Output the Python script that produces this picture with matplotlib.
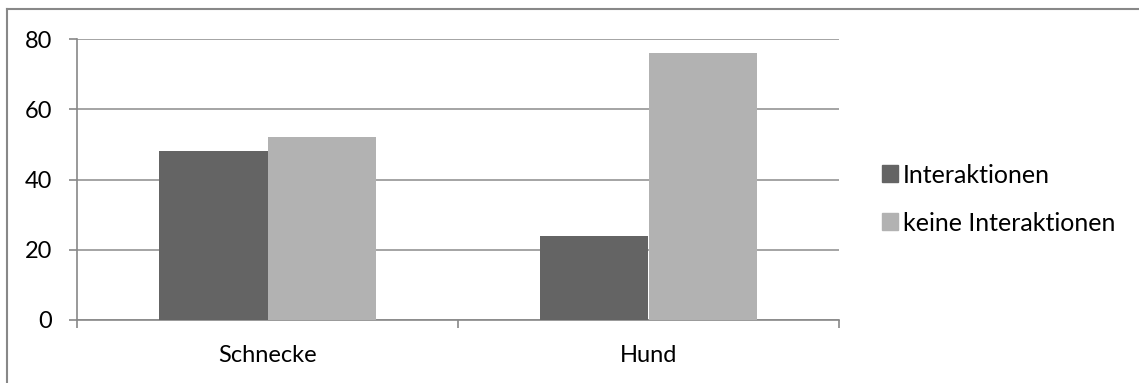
import numpy as np
import matplotlib.pyplot as plt
from matplotlib.patches import Patch

plt.rcParams['font.family'] = ['Lato', 'DejaVu Sans']

kategorien = ["Schnecke", "Hund"]
interaktionen = [48, 24]
keine_interaktionen = [52, 76]
serien = ["Interaktionen", "keine Interaktionen"]
farben = ["#646464", "#b2b2b2"]
yticks = [0, 20, 40, 60, 80]

W, H = 1139, 383
fig = plt.figure(figsize=(W / 100, H / 100), dpi=100)
ax = fig.add_axes([77 / W, 1 - 320 / H, (839 - 77) / W, (320 - 39) / H])

# Rahmen (nur oben und links sichtbar)
fig.add_artist(plt.Line2D([7 / W, 7 / W], [0, 1 - 9 / H], color="#888888", lw=1.5,
                          transform=fig.transFigure))
fig.add_artist(plt.Line2D([7 / W, 1], [1 - 9 / H, 1 - 9 / H], color="#888888", lw=1.5,
                          transform=fig.transFigure))

x = np.arange(len(kategorien))
bw = 0.285
ax.bar(x - bw / 2, interaktionen, bw, color=farben[0], zorder=3)
ax.bar(x + bw / 2, keine_interaktionen, bw, color=farben[1], zorder=3)

ax.set_xlim(-0.5, 1.5)
ax.set_ylim(0, 80)
ax.set_yticks(yticks)
ax.set_xticks(x)
ax.set_xticklabels(kategorien)
ax.set_xticks([-0.5, 0.5, 1.5], minor=True)
ax.tick_params(axis="x", which="major", length=0, pad=18, labelsize=17)
ax.tick_params(axis="x", which="minor", length=6, color="#888888", width=1.2)
ax.tick_params(axis="y", length=6, color="#888888", width=1.2, labelsize=17, pad=12)
ax.yaxis.grid(True, color="#8c8c8c", lw=1.1, zorder=0)

for s in ["top", "right"]:
    ax.spines[s].set_visible(False)
for s in ["left", "bottom"]:
    ax.spines[s].set_color("#888888")
    ax.spines[s].set_linewidth(1.2)

handles = [Patch(color=c) for c in farben]
fig.legend(handles, serien, loc="center left", bbox_to_anchor=(859 / W, 1 - 199 / H),
           frameon=False, fontsize=18, handlelength=0.65, handleheight=0.65,
           handletextpad=0.2, labelspacing=1.0)

fig.savefig("out.png", dpi=100)
